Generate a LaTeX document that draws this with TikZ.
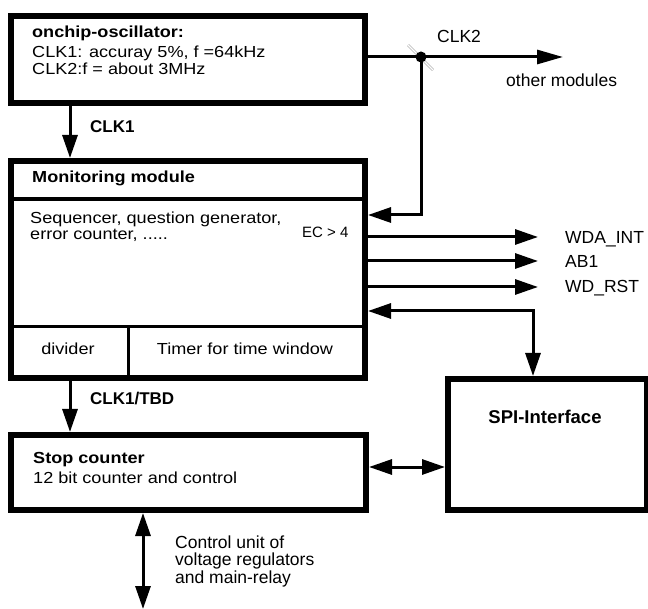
\documentclass[tikz,border=0pt]{standalone}
\usepackage{fontspec}
\setmainfont{Liberation Sans}
\newfontfamily\wide{Liberation Sans}[FakeStretch=1.13]
\usetikzlibrary{arrows.meta}
\begin{document}
\begin{tikzpicture}[x=1pt,y=-1pt,
 box/.style={draw, line width=6pt, inner sep=0pt, anchor=north west},
 wire/.style={line width=3pt},
 tipA/.tip={Triangle[length=23pt,width=15pt]},
 arr/.style={wire, -tipA},
 darr/.style={wire, tipA-tipA},
 intxt/.style={font=\wide\fontsize{16}{17}\selectfont, inner sep=0pt, anchor=base west},
 intb/.style={intxt, font=\wide\bfseries\fontsize{16}{17}\selectfont},
 lab/.style={font=\fontsize{17.5}{18}\selectfont, inner sep=0pt, anchor=base west},
 labb/.style={lab, font=\bfseries\fontsize{17}{18}\selectfont}]
\useasboundingbox (0,0) rectangle (648,609);
\fill[white] (0,0) rectangle (648,609);
% boxes
\node[box, minimum width=354pt, minimum height=87pt] (osc) at (8,13) {};
\node[box, minimum width=354pt, minimum height=217pt] (mon) at (8,158) {};
\node[box, minimum width=355pt, minimum height=75pt] (stop) at (8,432) {};
\node[box, minimum width=199pt, minimum height=131pt] (spi) at (445,376) {};
% internal separators of the monitoring module
\draw[line width=4pt] (8,199) -- (362,199);
\draw[line width=3pt] (8,327) -- (362,327);
\draw[line width=3pt] (128,327) -- (128,375);
% texts in boxes
\node[intb] (t1) at (32,38) {onchip-oscillator:};
\node[intxt] (t2) at (32,58) {CLK1: accuray 5\%, f =64kHz};
\node[intxt] (t3) at (32,75) {CLK2:f = about 3MHz};
\node[intb] (t4) at (32,183) {Monitoring module};
\node[intxt] (t5) at (30,224) {Sequencer, question generator,};
\node[intxt] (t6) at (30,240) {error counter, .....};
\node[font=\fontsize{15}{17}\selectfont, inner sep=0pt, anchor=base west] (ec) at (302,238) {EC > 4};
\node[intxt, anchor=base] (dv) at (68,355) {divider};
\node[intxt, anchor=base] (tm) at (245,355) {Timer for time window};
\node[intb] (t7) at (33,463) {Stop counter};
\node[intxt] (t8) at (33,483) {12 bit counter and control};
\node[labb, font=\bfseries\fontsize{18.5}{20}\selectfont, anchor=base] (t9) at (545,424) {SPI-Interface};
% labels
\node[labb] (lc1) at (90,133) {CLK1};
\node[labb] (lc2) at (90,405) {CLK1/TBD};
\node[lab] (lk2) at (437,43) {CLK2};
\node[lab] (om) at (506,87) {other modules};
\node[lab] (w1) at (565,244) {WDA\_INT};
\node[lab] (w2) at (565,268) {AB1};
\node[lab] (w3) at (565,293) {WD\_RST};
\node[lab] (c1) at (175,548) {Control unit of};
\node[lab] (c2) at (175,565) {voltage regulators};
\node[lab] (c3) at (175,583) {and main-relay};
% coordinates
\coordinate (dot) at (421,57);
\coordinate (clk2end) at (563,57);
\coordinate (bend1) at (421,215);
\coordinate (o1) at (538,237);
\coordinate (o2) at (538,261);
\coordinate (o3) at (538,287);
\coordinate (b2) at (533,311);
\coordinate (sl) at (0,467);
\coordinate (x1) at (70,0);
\coordinate (bot) at (143,609);
% connectors
\draw[wire, -{Triangle[length=26pt,width=14pt]}] (osc.east |- dot) -- (clk2end);
\draw[gray!60, double=white, double distance=1.2pt, line width=0.7pt] (408,45) -- (433,70);
\fill (dot) circle (5.5pt);
\draw[arr] (dot) -- (bend1) -- (mon.east |- bend1);
\draw[arr] (osc.south -| x1) -- (mon.north -| x1);
\draw[arr] (mon.east |- o1) -- (o1);
\draw[arr] (mon.east |- o2) -- (o2);
\draw[arr] (mon.east |- o3) -- (o3);
\draw[darr] (mon.east |- b2) -- (b2) -- (spi.north -| b2);
\draw[darr] (stop.east |- sl) -- (spi.west |- sl);
\draw[arr] (mon.south -| x1) -- (stop.north -| x1);
\draw[darr] (stop.south -| bot) -- (bot);
\end{tikzpicture}
\end{document}
